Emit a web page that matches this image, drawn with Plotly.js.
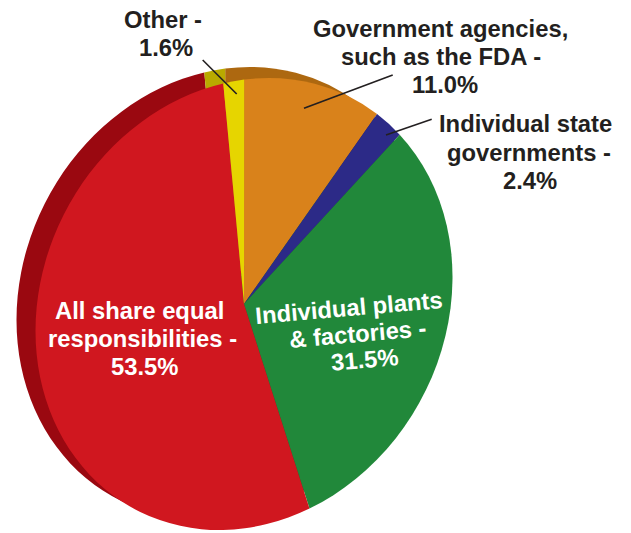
<!DOCTYPE html>
<html>
<head>
<meta charset="utf-8">
<script src="https://cdn.plot.ly/plotly-3.0.1.min.js"></script>
<style>
  html, body { margin: 0; padding: 0; background: #ffffff; }
  #chart { width: 631px; height: 533px; }
</style>
</head>
<body>
<div id="chart"></div>
<script>
// ---- data ----
const categories = [
  'Government agencies, such as the FDA',
  'Individual state governments',
  'Individual plants & factories',
  'All share equal responsibilities',
  'Other'
];
const values = [11.0, 2.4, 31.5, 53.5, 1.6];
const labelLines = [
  ['Government agencies,', 'such as the FDA -'],
  ['Individual state', 'governments -'],
  ['Individual plants', '& factories -'],
  ['All share equal', 'responsibilities -'],
  ['Other -']
];
const faceColors = ['#d9821b', '#2c2a87', '#21883a', '#d0171f', '#e6d500'];
const sideColors = ['#ad6810', '#1d1c5e', '#15602a', '#9a0810', '#b9aa00'];

// ---- layout geometry (pixels) ----
const W = 631, H = 533;
const C = { x: 244, y: 304 };   // pie centre
const R = 200;                  // radius before the tilt transform
const M = { a: 208.1 / R, b: -12.94 / R, c: -12.94 / R, d: 225.6 / R }; // tilt
const sideOff = { x: -19, y: -11 }; // on-screen offset of the pie's side
const det = M.a * M.d - M.b * M.c;
const v = {
  x: (M.d * sideOff.x - M.c * sideOff.y) / det,
  y: (-M.b * sideOff.x + M.a * sideOff.y) / det
};
function dom(cx, cy) {
  return {
    x: [(cx - R) / W, (cx + R) / W],
    y: [1 - (cy + R) / H, 1 - (cy - R) / H]
  };
}
const px = x => x / W;
const py = y => 1 - y / H;

const common = {
  type: 'pie',
  labels: categories,
  values: values,
  sort: false,
  direction: 'clockwise',
  rotation: -3.5,
  textinfo: 'none',
  hoverinfo: 'skip',
  showlegend: false
};
const side = Object.assign({}, common, {
  domain: dom(C.x + v.x, C.y + v.y),
  marker: { colors: sideColors, line: { width: 0 } }
});
const face = Object.assign({}, common, {
  domain: dom(C.x, C.y),
  marker: { colors: faceColors, line: { width: 0 } }
});

// ---- labels ----
const fontFam = 'Liberation Sans, Arial, Helvetica, sans-serif';
const FS = 23.8;
const dark = '#231f20';
// per-label placement: line centres (x) and baselines (y), rotation
const place = [
  { xs: [440, 441, 445], ys: [36, 64, 92], color: dark, angle: 0 },
  { xs: [525, 529, 530], ys: [131, 160, 187.5], color: dark, angle: 0 },
  { xs: [349, 358, 364], ys: [315, 341, 367], color: '#ffffff', angle: -5 },
  { xs: [139, 142, 144], ys: [318, 346, 374], color: '#ffffff', angle: 0 },
  { xs: [162.5, 166], ys: [26.5, 55], color: dark, angle: 0 }
];
const annotations = [];
categories.forEach((cat, i) => {
  const lines = labelLines[i].concat([values[i].toFixed(1) + '%']);
  lines.forEach((t, j) => {
    annotations.push({
      xref: 'paper', yref: 'paper',
      x: px(place[i].xs[j]), y: py(place[i].ys[j] - 7.5),
      xanchor: 'center', yanchor: 'middle',
      text: t, showarrow: false,
      textangle: place[i].angle,
      font: { family: fontFam, size: FS, color: place[i].color, weight: 700 }
    });
  });
});

const leaders = [
  [392.7, 75, 304, 108.3],
  [431.7, 119.3, 386, 135],
  [202.7, 60, 236.7, 94]
];
const shapes = leaders.map(l => ({
  type: 'line', xref: 'paper', yref: 'paper',
  x0: px(l[0]), y0: py(l[1]), x1: px(l[2]), y1: py(l[3]),
  line: { color: dark, width: 1.6 }
}));

const layout = {
  width: W, height: H,
  margin: { l: 0, r: 0, t: 0, b: 0 },
  paper_bgcolor: '#ffffff',
  plot_bgcolor: '#ffffff',
  showlegend: false,
  annotations: annotations,
  shapes: shapes
};

Plotly.newPlot('chart', [side, face], layout, { staticPlot: true, displayModeBar: false })
  .then(gd => {
    const layer = gd.querySelector('.pielayer');
    if (layer) {
      const e = C.x - (M.a * C.x + M.c * C.y);
      const f = C.y - (M.b * C.x + M.d * C.y);
      layer.setAttribute('transform',
        `matrix(${M.a} ${M.b} ${M.c} ${M.d} ${e} ${f})`);
    }
  });
</script>
</body>
</html>
